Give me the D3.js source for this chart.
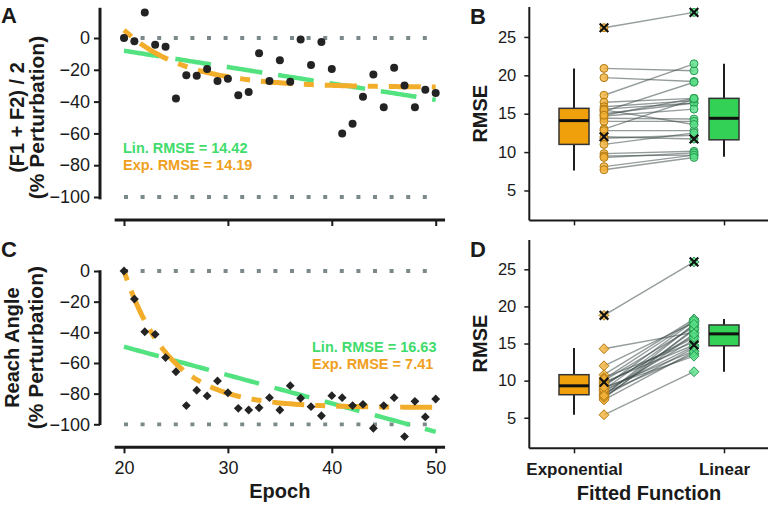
<!DOCTYPE html>
<html lang="en">
<head>
<meta charset="UTF-8">
<title>Fits and RMSE</title>
<script src="https://d3js.org/d3.v7.min.js"></script>
<style>
  body { margin: 0; background: #fff; }
  text { font-family: "Liberation Sans", Arial, sans-serif; fill: #1a1a1a; }
</style>
</head>
<body>
<svg width="769" height="508"></svg>
<script>
// ---- data ----
const epochs = [20,21,22,23,24,25,26,27,28,29,30,31,32,33,34,35,36,37,38,39,40,41,42,43,44,45,46,47,48,49,50];
const formantA = [0,-2,16,-4.2,-5.5,-38,-23.5,-23.8,-19.5,-27,-25.6,-36,-34,-9.6,-27,-14,-27.5,-1,-17,-2.5,
                  -19.5,-60,-54,-37,-23,-43.5,-18.7,-29.8,-43.5,-32.5,-34.6];
const reachC = [0,-18.3,-39.6,-41.3,-56.5,-65.7,-87.8,-77.8,-81.5,-71.7,-79.4,-89.6,-90.7,-89.2,-82.6,-90.7,
                -74.8,-83,-88.5,-94.4,-81.3,-82.6,-87.8,-87,-102.6,-87.8,-82.6,-108,-85,-95.2,-83.5];

// fitted functions: linear [value at epoch 20, slope], exponential [asymptote, amplitude, tau]
const linFitA = [-8, -1.03];
const expFitA = [-31, 36, 5.9];
const linFitC = [-49.4, -1.85];
const expFitC = [-89, 89, 4.4];
const rmseTextA = ["Lin. RMSE = 14.42", "Exp. RMSE = 14.19"];
const rmseTextC = ["Lin. RMSE = 16.63", "Exp. RMSE = 7.41"];

const yTicksLeft = [0, -20, -40, -60, -80, -100];
const xTicksLeft = [20, 30, 40, 50];
const yTicksRight = [5, 10, 15, 20, 25];
const fitNames = ["Exponential", "Linear"];

// per participant RMSE (B: formants, D: reach)
const rmseExpB = [26.2,20.9,19.7,17.4,16.5,15.9,15.6,15.3,15.0,14.7,14.4,14.0,13.0,12.8,12.0,11.8,11.0,9.8,9.5,9.3,8.1,7.7,15.5,14.8];
const rmseLinB = [28.2,20.6,19.2,21.5,17.0,16.7,16.4,19.1,16.4,15.6,14.3,14.0,16.9,12.8,11.7,12.2,12.5,10.1,9.6,9.9,9.6,9.3,13.6,17.0];
const flaggedB = [0, 14];
const rmseExpD = [18.8,14.3,12.0,10.8,10.4,10.0,9.8,9.5,9.2,9.0,8.8,8.5,8.3,8.1,7.9,7.6,7.4,5.4,9.6,8.7,10.2,7.8,9.1,8.0];
const rmseLinD = [26.0,16.5,17.8,18.3,15.2,17.2,14.8,16.0,18.0,14.0,17.5,15.5,13.6,16.8,14.4,17.0,13.9,11.2,15.8,14.6,18.1,16.3,13.3,17.6];
const flaggedD = [0, 6];

// box stats [lower whisker, q1, median, q3, upper whisker]
const boxExpB = [7.6, 11.0, 14.1, 15.7, 20.9];
const boxLinB = [9.4, 11.6, 14.4, 17.0, 21.5];
const boxExpD = [5.4, 8.1, 9.3, 10.8, 14.4];
const boxLinD = [11.2, 14.7, 16.3, 17.5, 18.3];

const orange = "#f0a00a", green = "#33d155";
const lineGreen = "#52e27f", lineOrange = "#f2ad2a";
const textGreen = "#3fdc6c", textOrange = "#f0a020";

const svg = d3.select("svg");

// ---- left panels ----
const x = d3.scaleLinear().domain([20, 50]).range([124, 435.7]);

function leftPanel(opts) {
  const y = opts.y;
  const g = svg.append("g");

  // reference lines at 0 and -100
  g.selectAll(".ref").data([0, -100]).enter().append("line")
    .attr("x1", x(20)).attr("x2", x(50))
    .attr("y1", d => y(d)).attr("y2", d => y(d))
    .attr("stroke", "#7b898a").attr("stroke-width", 3.8)
    .attr("stroke-dasharray", "4,12.6");

  // y axis
  const ya = g.append("g").attr("transform", "translate(100,0)")
    .call(d3.axisLeft(y).tickValues(yTicksLeft).tickSize(6).tickPadding(4));
  ya.select(".domain").remove();
  ya.selectAll(".tick line").attr("stroke", "#1a1a1a").attr("stroke-width", 2);
  ya.selectAll(".tick text").style("font-size", "18px").attr("fill", "#1a1a1a");
  g.append("line").attr("x1", 100).attr("x2", 100)
    .attr("y1", y(opts.ySpan[0])).attr("y2", y(opts.ySpan[1]))
    .attr("stroke", "#1a1a1a").attr("stroke-width", 3);

  // x axis
  const xa = g.append("g").attr("transform", `translate(0,${opts.xAxisY})`)
    .call(d3.axisBottom(x).tickValues(xTicksLeft).tickSize(6).tickPadding(8)
      .tickFormat(opts.xLabels ? d3.format("d") : ""));
  xa.select(".domain").remove();
  xa.selectAll(".tick line").attr("stroke", "#1a1a1a").attr("stroke-width", 2);
  xa.selectAll(".tick text").style("font-size", "18px").attr("fill", "#1a1a1a");
  g.append("line").attr("x1", x(19.1)).attr("x2", x(50.9))
    .attr("y1", opts.xAxisY).attr("y2", opts.xAxisY)
    .attr("stroke", "#1a1a1a").attr("stroke-width", 3);

  // fits
  const fineT = d3.range(20, 50.001, 0.25);
  const lin = opts.lin, ex = opts.exp;
  const line = d3.line().x(d => x(d[0])).y(d => y(d[1]));
  g.append("path")
    .attr("d", line(fineT.map(t => [t, lin[0] + lin[1] * (t - 20)])))
    .attr("fill", "none").attr("stroke", lineGreen).attr("stroke-width", 4.5)
    .attr("stroke-dasharray", "36,16");
  g.append("path")
    .attr("d", line(fineT.map(t => [t, ex[0] + ex[1] * Math.exp(-(t - 20) / ex[2])])))
    .attr("fill", "none").attr("stroke", lineOrange).attr("stroke-width", 5)
    .attr("stroke-dasharray", "10,11,32,11");

  // points
  const pts = epochs.map((e, i) => [e, opts.values[i]]);
  if (opts.diamond) {
    g.selectAll(".pt").data(pts).enter().append("path")
      .attr("transform", d => `translate(${x(d[0])},${y(d[1])})`)
      .attr("d", d3.symbol(d3.symbolDiamond2, 50)())
      .attr("fill", "#232323");
  } else {
    g.selectAll(".pt").data(pts).enter().append("circle")
      .attr("cx", d => x(d[0])).attr("cy", d => y(d[1])).attr("r", 4)
      .attr("fill", "#232323");
  }

  // legend text
  g.selectAll(".leg").data(opts.legend).enter().append("text")
    .attr("x", opts.legendX).attr("y", (d, i) => opts.legendY + i * 16.5)
    .style("fill", (d, i) => i === 0 ? textGreen : textOrange)
    .style("font-size", "14.5px").style("font-weight", "bold")
    .text(d => d);

  // y title (two lines)
  const cy = (y(0) + y(-100)) / 2;
  opts.title.forEach((t, i) => {
    g.append("text")
      .attr("transform", `translate(${opts.titleX[i]},${cy}) rotate(-90)`)
      .attr("text-anchor", "middle")
      .style("font-size", i === 0 ? "20px" : "21px").style("font-weight", "bold")
      .text(t);
  });

  g.append("text").attr("x", 1).attr("y", opts.letterY)
    .style("font-size", "22px").style("font-weight", "bold").text(opts.letter);
}

leftPanel({
  y: d3.scaleLinear().domain([0, -100]).range([38, 197]),
  ySpan: [19, -101.5], xAxisY: 220, xLabels: false,
  values: formantA, lin: linFitA, exp: expFitA, diamond: false,
  legend: rmseTextA, legendX: 123, legendY: 153,
  title: ["(F1 + F2) / 2", "(% Perturbation)"], titleX: [24, 44],
  letter: "A", letterY: 23
});

leftPanel({
  y: d3.scaleLinear().domain([0, -100]).range([271, 424.3]),
  ySpan: [0.5, -100.5], xAxisY: 447.3, xLabels: true,
  values: reachC, lin: linFitC, exp: expFitC, diamond: true,
  legend: rmseTextC, legendX: 312, legendY: 352,
  title: ["Reach Angle", "(% Perturbation)"], titleX: [19, 43],
  letter: "C", letterY: 257
});

svg.append("text").attr("x", x(35)).attr("y", 497.5).attr("text-anchor", "middle")
  .style("font-size", "20px").style("font-weight", "bold").text("Epoch");

// ---- right panels ----
const xr = d3.scalePoint().domain(fitNames).range([574, 724]);
const ptOffset = 30;

function rightPanel(opts) {
  const y = opts.y;
  const g = svg.append("g");
  const [bottom, top] = y.range();

  const ya = g.append("g").attr("transform", "translate(529.3,0)")
    .call(d3.axisLeft(y).tickValues(yTicksRight).tickSize(5).tickPadding(8));
  ya.select(".domain").remove();
  ya.selectAll(".tick line").attr("stroke", "#1a1a1a").attr("stroke-width", 1.5);
  ya.selectAll(".tick text").style("font-size", "16.5px").attr("fill", "#1a1a1a");
  g.append("line").attr("x1", 529.3).attr("x2", 529.3).attr("y1", top).attr("y2", bottom)
    .attr("stroke", "#1a1a1a").attr("stroke-width", 2);

  const xa = g.append("g").attr("transform", `translate(0,${bottom})`)
    .call(d3.axisBottom(xr).tickSize(5).tickPadding(10).tickFormat(opts.xLabels ? d => d : ""));
  xa.select(".domain").remove();
  xa.selectAll(".tick line").attr("stroke", "#1a1a1a").attr("stroke-width", 1.5);
  xa.selectAll(".tick text").style("font-size", "17px").style("font-weight", "bold").attr("fill", "#1a1a1a");
  g.append("line").attr("x1", 529.3).attr("x2", 768).attr("y1", bottom).attr("y2", bottom)
    .attr("stroke", "#1a1a1a").attr("stroke-width", 2);

  // boxes
  const boxes = [[fitNames[0], opts.boxExp, orange], [fitNames[1], opts.boxLin, green]];
  boxes.forEach(([name, b, col]) => {
    const cx = xr(name), w = 30;
    g.append("line").attr("x1", cx).attr("x2", cx).attr("y1", y(b[0])).attr("y2", y(b[4]))
      .attr("stroke", "#1f1f1f").attr("stroke-width", 2);
    g.append("rect").attr("x", cx - w / 2).attr("width", w)
      .attr("y", y(b[3])).attr("height", y(b[1]) - y(b[3]))
      .attr("fill", col).attr("stroke", "#333").attr("stroke-width", 1.5);
    g.append("line").attr("x1", cx - w / 2).attr("x2", cx + w / 2)
      .attr("y1", y(b[2])).attr("y2", y(b[2]))
      .attr("stroke", "#111").attr("stroke-width", 3);
  });

  // paired lines
  const xe = xr(fitNames[0]) + ptOffset, xl = xr(fitNames[1]) - ptOffset;
  const pairs = opts.exp.map((v, i) => ({ e: v, l: opts.lin[i], flag: opts.flagged.includes(i) }));
  g.selectAll(".pair").data(pairs).enter().append("line")
    .attr("x1", xe).attr("x2", xl)
    .attr("y1", d => y(d.e)).attr("y2", d => y(d.l))
    .attr("stroke", "#3e4d4a").attr("stroke-opacity", 0.55).attr("stroke-width", 1.4);

  const sym = opts.diamond ? d3.symbol(d3.symbolDiamond2, 62) : d3.symbol(d3.symbolCircle, 50);
  [["e", xe, "#f3b238", "#b27a12"], ["l", xl, "#58df86", "#2a9a52"]].forEach(([k, px, fill, stroke]) => {
    g.selectAll(".pt" + k).data(pairs).enter().append("path")
      .attr("transform", d => `translate(${px},${y(d[k])})`)
      .attr("d", sym())
      .attr("fill", fill).attr("fill-opacity", 0.8)
      .attr("stroke", stroke).attr("stroke-width", 1);
    g.selectAll(".x" + k).data(pairs.filter(d => d.flag)).enter().append("path")
      .attr("transform", d => `translate(${px},${y(d[k])})`)
      .attr("d", d3.symbol(d3.symbolX, 50)())
      .attr("fill", "none").attr("stroke", "#111").attr("stroke-width", 2.2);
  });

  g.append("text")
    .attr("transform", `translate(487,${(y(5) + y(25)) / 2 }) rotate(-90)`)
    .attr("text-anchor", "middle")
    .style("font-size", "20px").style("font-weight", "bold").text("RMSE");

  g.append("text").attr("x", 470).attr("y", opts.letterY)
    .style("font-size", "22px").style("font-weight", "bold").text(opts.letter);
}

rightPanel({
  y: d3.scaleLinear().domain([1.1, 28.9]).range([220.4, 7]),
  exp: rmseExpB, lin: rmseLinB, flagged: flaggedB, boxExp: boxExpB, boxLin: boxLinB,
  diamond: false, xLabels: false, letter: "B", letterY: 23.5
});

rightPanel({
  y: d3.scaleLinear().domain([0.88, 28.95]).range([448.3, 240]),
  exp: rmseExpD, lin: rmseLinD, flagged: flaggedD, boxExp: boxExpD, boxLin: boxLinD,
  diamond: true, xLabels: true, letter: "D", letterY: 257
});

svg.append("text").attr("x", 649).attr("y", 499.5).attr("text-anchor", "middle")
  .style("font-size", "20px").style("font-weight", "bold").text("Fitted Function");
</script>
</body>
</html>
